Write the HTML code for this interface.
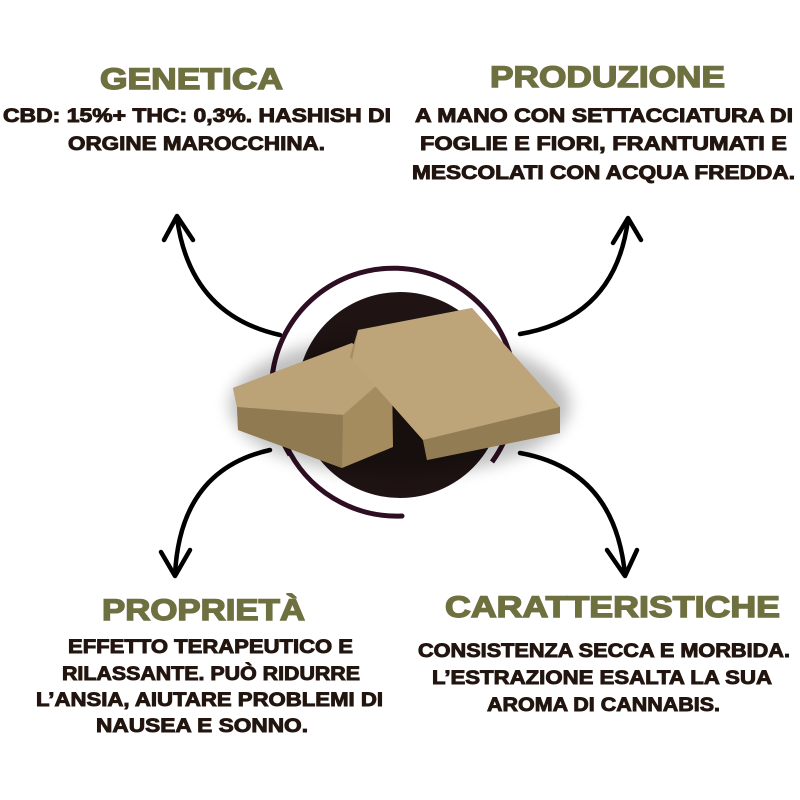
<!DOCTYPE html>
<html><head><meta charset="utf-8"><style>
html,body{margin:0;padding:0;background:#fff;width:800px;height:800px;overflow:hidden}
svg{display:block}
.t{font-family:"Liberation Sans",sans-serif;font-weight:700;fill:#6e7040;stroke:#6e7040;stroke-width:1.4;font-size:30px}
.b{font-family:"Liberation Sans",sans-serif;font-weight:700;fill:#22150f;stroke:#22150f;stroke-width:0.9;font-size:19px}
</style></head><body>
<svg width="800" height="800" viewBox="0 0 800 800" xmlns="http://www.w3.org/2000/svg">
<defs>
<filter id="sh" x="-30%" y="-30%" width="160%" height="160%"><feGaussianBlur stdDeviation="8"/></filter>
</defs>
<text class="t" x="100" y="89" textLength="183" lengthAdjust="spacingAndGlyphs">GENETICA</text>
<text class="t" x="490" y="87" textLength="235" lengthAdjust="spacingAndGlyphs">PRODUZIONE</text>
<text class="t" x="102" y="620" textLength="203" lengthAdjust="spacingAndGlyphs">PROPRIETÀ</text>
<text class="t" x="445" y="617" textLength="335" lengthAdjust="spacingAndGlyphs">CARATTERISTICHE</text>
<text class="b" x="3" y="122" textLength="388" lengthAdjust="spacingAndGlyphs">CBD: 15%+ THC: 0,3%. HASHISH DI</text>
<text class="b" x="68" y="150" textLength="257" lengthAdjust="spacingAndGlyphs">ORGINE MAROCCHINA.</text>
<text class="b" x="415" y="122" textLength="378" lengthAdjust="spacingAndGlyphs">A MANO CON SETTACCIATURA DI</text>
<text class="b" x="420" y="150" textLength="367" lengthAdjust="spacingAndGlyphs">FOGLIE E FIORI, FRANTUMATI E</text>
<text class="b" x="412" y="179" textLength="383" lengthAdjust="spacingAndGlyphs">MESCOLATI CON ACQUA FREDDA.</text>
<text class="b" x="68" y="653" textLength="285" lengthAdjust="spacingAndGlyphs">EFFETTO TERAPEUTICO E</text>
<text class="b" x="62" y="680" textLength="298" lengthAdjust="spacingAndGlyphs">RILASSANTE. PUÒ RIDURRE</text>
<text class="b" x="36" y="706" textLength="347" lengthAdjust="spacingAndGlyphs">L’ANSIA, AIUTARE PROBLEMI DI</text>
<text class="b" x="96" y="732" textLength="212" lengthAdjust="spacingAndGlyphs">NAUSEA E SONNO.</text>
<text class="b" x="418" y="657" textLength="372" lengthAdjust="spacingAndGlyphs">CONSISTENZA SECCA E MORBIDA.</text>
<text class="b" x="432" y="684" textLength="340" lengthAdjust="spacingAndGlyphs">L’ESTRAZIONE ESALTA LA SUA</text>
<text class="b" x="487" y="711" textLength="233" lengthAdjust="spacingAndGlyphs">AROMA DI CANNABIS.</text>
<g fill="none" stroke="#000" stroke-width="4.5" stroke-linecap="round" stroke-linejoin="round">
<path d="M280,335 Q190,315 177,218"/><path d="M164,240 L177,216 L193,240"/>
<path d="M520,334 Q615,318 628,220"/><path d="M613,243 L628,218 L641,240"/>
<path d="M270,450 Q180,470 175,575"/><path d="M161,552 L175,576 L190,550"/>
<path d="M520,453 Q615,470 625,575"/><path d="M607,550 L625,576 L637,550"/>
</g>
<circle cx="400" cy="395" r="103" fill="#1f1413"/>
<path d="M290,455 A122,122 0 1 1 492,462" fill="none" stroke="#2e0e22" stroke-width="5"/>
<path d="M286,445 A122,122 0 0 0 402,516" fill="none" stroke="#2e0e22" stroke-width="5" stroke-linecap="round"/>
<ellipse cx="400" cy="405" rx="170" ry="70" fill="#000" opacity="0.25" filter="url(#sh)"/>
<polygon points="233,388 352,343 392,375 393,447 342,468 238,430 237,407" fill="#a58c5f"/>
<polygon points="233,388 352,343 392,372 343,415 237,407" fill="#bba277"/>
<polygon points="237,407 343,415 342,468 238,430" fill="#8f7a52"/>
<polygon points="358,330 472,308 560,407 560,433 427,460 423,440 350,357" fill="#a58c5f"/>
<polygon points="358,330 472,308 560,407 423,440 352,360" fill="#bda479"/>
<polygon points="423,440 560,407 560,433 427,460" fill="#927c54"/>
</svg>
</body></html>
